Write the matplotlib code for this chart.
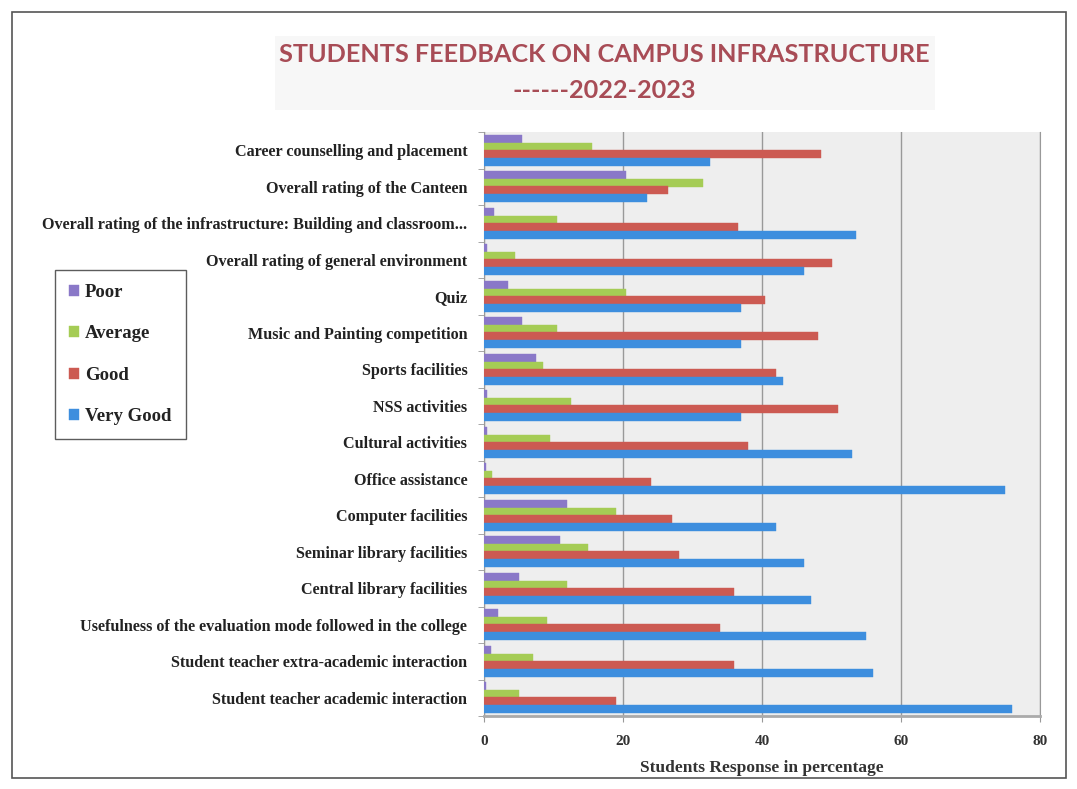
import matplotlib
matplotlib.use("Agg")
import matplotlib.pyplot as plt
from matplotlib.patches import Rectangle
import numpy as np

categories = [
    "Career counselling and placement",
    "Overall rating of the Canteen",
    "Overall rating of the infrastructure: Building and classroom...",
    "Overall rating of general environment",
    "Quiz",
    "Music and Painting competition",
    "Sports facilities",
    "NSS activities",
    "Cultural activities",
    "Office assistance",
    "Computer facilities",
    "Seminar library facilities",
    "Central library facilities",
    "Usefulness of the evaluation mode followed in the college",
    "Student teacher extra-academic interaction",
    "Student teacher academic interaction",
]
poor      = [5.5, 20.5, 1.5, 0.5, 3.5, 5.5, 7.5, 0.5, 0.5, 0.3, 12, 11, 5, 2, 1, 0.3]
average   = [15.5, 31.5, 10.5, 4.5, 20.5, 10.5, 8.5, 12.5, 9.5, 1.2, 19, 15, 12, 9, 7, 5]
good      = [48.5, 26.5, 36.5, 50, 40.5, 48, 42, 51, 38, 24, 27, 28, 36, 34, 36, 19]
very_good = [32.5, 23.5, 53.5, 46, 37, 37, 43, 37, 53, 75, 42, 46, 47, 55, 56, 76]

series = [("Poor", poor, "#8a78c8"),
          ("Average", average, "#a5cc55"),
          ("Good", good, "#cc5a52"),
          ("Very Good", very_good, "#3d8ede")]
xticks = [0, 20, 40, 60, 80]

W, H = 1077, 789
fig = plt.figure(figsize=(W / 100, H / 100), dpi=100)
fig.patch.set_facecolor("white")

# outer border
fig.patches.append(Rectangle((12 / W, 1 - 778 / H), (1066 - 12) / W, (778 - 12) / H,
                             transform=fig.transFigure, fill=False,
                             edgecolor="#555555", lw=1.2))
# faint title background
fig.patches.append(Rectangle((275 / W, 1 - 110 / H), (935 - 275) / W, (110 - 36) / H,
                             transform=fig.transFigure, facecolor="#f7f7f7",
                             edgecolor="none", zorder=0))

ax = fig.add_axes([484 / W, 1 - 716 / H, (1040 - 484) / W, (716 - 132) / H])
ax.set_facecolor("#eeeeee")

y = np.arange(len(categories))
bh = 0.22
offsets = [-0.31, -0.1, 0.1, 0.31]
for (name, vals, col), off in zip(series, offsets):
    ax.barh(y + off, vals, height=bh, color=col, label=name, zorder=3,
            edgecolor=col, linewidth=0.3)

ax.set_xlim(0, 80)
ax.set_ylim(len(categories) - 0.5, -0.5)
ax.set_xticks(xticks)
ax.set_xticklabels([str(t) for t in xticks], family="Liberation Serif",
                   fontweight="bold", fontsize=11, color="#333333")
ax.set_yticks(y)
ax.set_yticklabels(categories, family="Liberation Serif", fontweight="bold",
                   fontsize=11.6, color="#222222")
ax.set_yticks(np.arange(len(categories) + 1) - 0.5, minor=True)
ax.tick_params(axis="y", which="major", length=0, pad=12)
ax.tick_params(axis="y", which="minor", length=4, color="#999999", direction="out")
ax.tick_params(axis="x", length=4, color="#999999", pad=10)

ax.grid(axis="x", color="#999999", linewidth=1.0, zorder=1)
ax.spines["top"].set_visible(False)
ax.spines["right"].set_color("#999999")
ax.spines["left"].set_color("#999999")
ax.spines["bottom"].set_color("#aaaaaa")
ax.spines["bottom"].set_linewidth(2)

ax.set_xlabel("Students Response in percentage", family="Liberation Serif",
              fontweight="bold", fontsize=12.5, color="#333333", labelpad=8)

fig.text(604 / W, 1 - 55 / H, "STUDENTS FEEDBACK ON CAMPUS INFRASTRUCTURE",
         ha="center", va="center", family="Lato", fontweight="bold",
         fontsize=18.2, color="#a84c56")
fig.text(604 / W, 1 - 90 / H, "------2022-2023",
         ha="center", va="center", family="Lato", fontweight="bold",
         fontsize=18.2, color="#a84c56")

leg = fig.legend(loc="upper left", bbox_to_anchor=(55 / W, 1 - 270 / H),
                 bbox_transform=fig.transFigure,
                 prop={"family": "Liberation Serif", "weight": "bold", "size": 13.5},
                 frameon=True, fancybox=False, edgecolor="#333333",
                 labelspacing=1.3, handlelength=0.55, handleheight=0.55,
                 handletextpad=0.3, borderpad=0.75, borderaxespad=0)
leg.get_frame().set_linewidth(1.0)
for t in leg.get_texts():
    t.set_color("#222222")

fig.savefig("out.png", dpi=100)
